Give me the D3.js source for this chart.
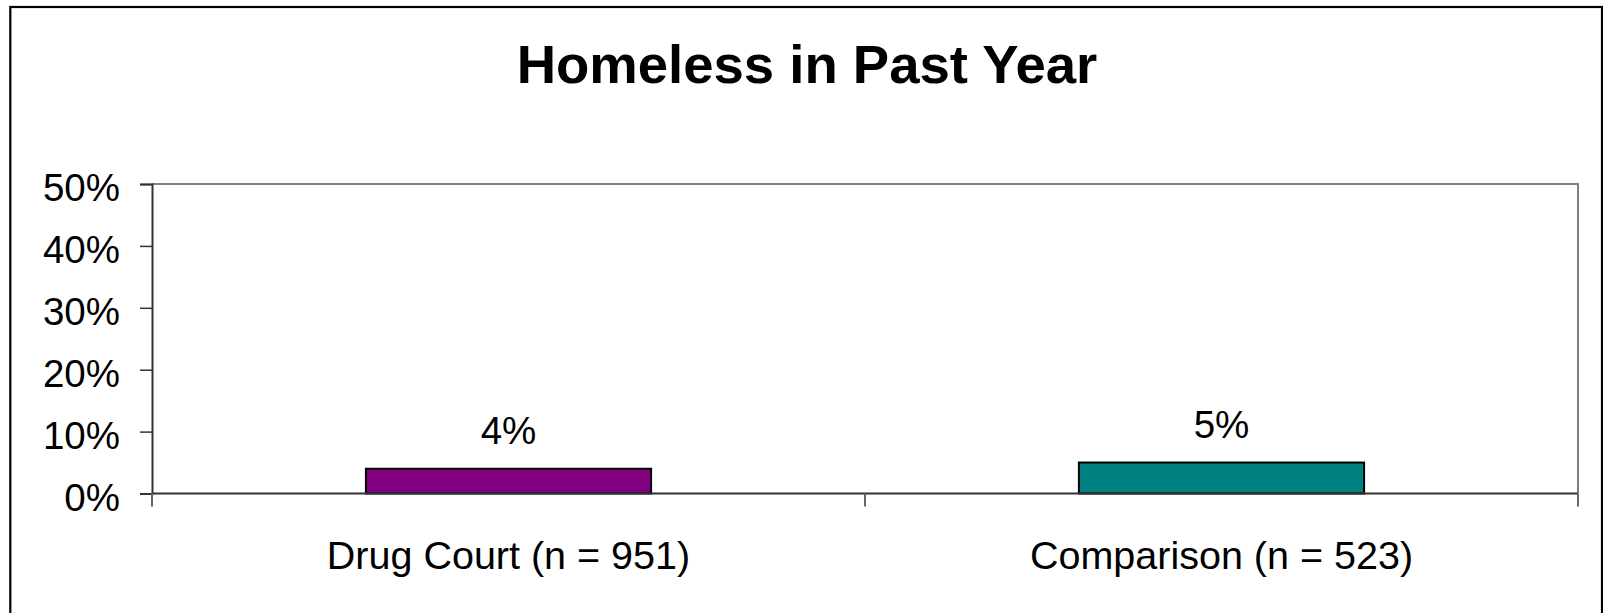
<!DOCTYPE html>
<html>
<head>
<meta charset="utf-8">
<script src="https://cdn.jsdelivr.net/npm/d3@7"></script>
<style>
  html, body { margin: 0; padding: 0; background: #fff; }
  svg { display: block; font-family: Arial, "Liberation Sans", sans-serif; }
</style>
</head>
<body>
<svg id="chart" width="1603" height="613"></svg>
<script>
// Share of respondents homeless in the past year, by group
const categories = ["Drug Court (n = 951)", "Comparison (n = 523)"];
const values = [4, 5];
const barColors = ["#800080", "#008080"];
const yTicks = [0, 10, 20, 30, 40, 50];
const title = "Homeless in Past Year";

const W = 1603, H = 613;
const plot = { left: 152, right: 1578, top: 184, bottom: 493.5 };

const svg = d3.select("#chart");

// Outer frame (bottom edge falls below the visible area)
svg.append("rect")
  .attr("x", 10.3).attr("y", 7)
  .attr("width", 1602 - 10.3).attr("height", 640)
  .attr("fill", "none").attr("stroke", "#000").attr("stroke-width", 2.2);

svg.append("text")
  .attr("x", 807).attr("y", 83)
  .attr("text-anchor", "middle")
  .attr("font-size", 54.5).attr("font-weight", "bold")
  .attr("fill", "#000")
  .text(title);

const x = d3.scaleBand()
  .domain(categories)
  .range([plot.left, plot.right])
  .paddingInner(0.6)
  .paddingOuter(0.3);

const y = d3.scaleLinear()
  .domain([0, 50])
  .range([plot.bottom, plot.top]);

// Plot area outline: top and right edges in grey
svg.append("path")
  .attr("d", `M${plot.left},${plot.top}H${plot.right}V${plot.bottom}`)
  .attr("fill", "none").attr("stroke", "#808080").attr("stroke-width", 2);

// Bars
svg.append("g").selectAll("rect")
  .data(values)
  .join("rect")
  .attr("x", (d, i) => x(categories[i]))
  .attr("y", d => y(d))
  .attr("width", x.bandwidth())
  .attr("height", d => y(0) - y(d))
  .attr("fill", (d, i) => barColors[i])
  .attr("stroke", "#000").attr("stroke-width", 2);

// Value labels
svg.append("g").selectAll("text")
  .data(values)
  .join("text")
  .attr("x", (d, i) => x(categories[i]) + x.bandwidth() / 2)
  .attr("y", d => y(d) - 25)
  .attr("text-anchor", "middle")
  .attr("font-size", 38.5)
  .attr("fill", "#000")
  .text(d => d + "%");

// Y axis
const yAxis = d3.axisLeft(y)
  .tickValues(yTicks)
  .tickFormat(d => d + "%")
  .tickSize(12)
  .tickPadding(20);

const gy = svg.append("g")
  .attr("transform", `translate(${plot.left},0)`)
  .call(yAxis);
gy.select(".domain").attr("stroke", "#333").attr("stroke-width", 2);
gy.selectAll(".tick line").attr("stroke", "#333").attr("stroke-width", 1.5);
gy.selectAll(".tick text")
  .attr("font-size", 38.5)
  .attr("font-family", "Arial, 'Liberation Sans', sans-serif")
  .attr("fill", "#000")
  .attr("dy", "0.44em");

// X axis: baseline with ticks at the category boundaries
const boundaries = [0, 1, 2].map(i => plot.left + i * x.step());
svg.append("line")
  .attr("x1", plot.left).attr("x2", plot.right)
  .attr("y1", plot.bottom).attr("y2", plot.bottom)
  .attr("stroke", "#333").attr("stroke-width", 2);
svg.append("g").selectAll("line")
  .data(boundaries)
  .join("line")
  .attr("x1", d => d).attr("x2", d => d)
  .attr("y1", plot.bottom).attr("y2", plot.bottom + 13)
  .attr("stroke", "#666").attr("stroke-width", 2);

svg.append("g").selectAll("text")
  .data(categories)
  .join("text")
  .attr("x", d => x(d) + x.bandwidth() / 2)
  .attr("y", 569)
  .attr("text-anchor", "middle")
  .attr("font-size", 39.5)
  .attr("fill", "#000")
  .text(d => d);
</script>
</body>
</html>
